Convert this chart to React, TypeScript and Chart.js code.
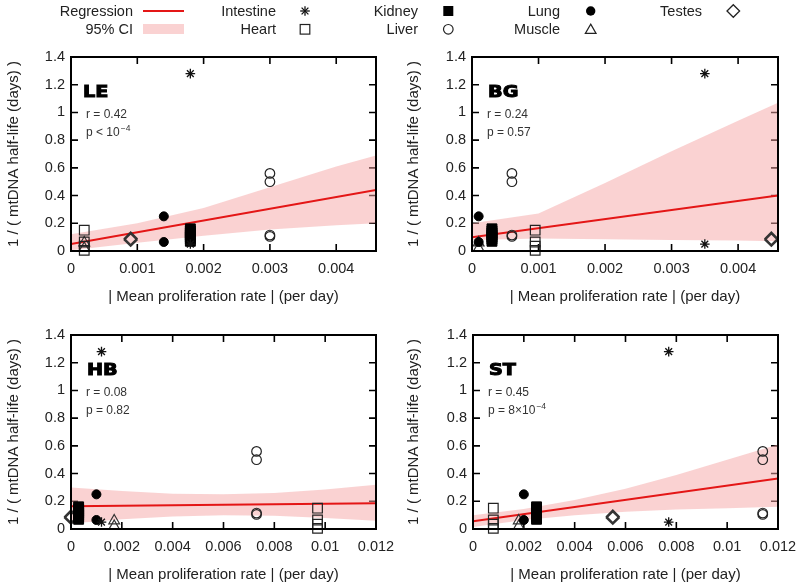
import React, { useEffect, useRef } from 'react';
import { Chart, registerables } from 'chart.js';

Chart.register(...registerables);
Chart.defaults.font.family = '"Liberation Sans", Arial, sans-serif';

// ---------- text ----------
const panelNames = ['LE', 'BG', 'HB', 'ST'];
const rLabels = ['r = 0.42', 'r = 0.24', 'r = 0.08', 'r = 0.45'];
const pLabels = ['p < 10', 'p = 0.57', 'p = 0.82', 'p = 8×10'];
const pSuperscripts = ['−4', '', '', '−4'];
const xTitle = '| Mean proliferation rate | (per day)';
const yTitle = '1 / ( mtDNA half-life (days) )';

// ---------- axes ----------
const xMax = [0.0046, 0.0046, 0.012, 0.012];
const xTicksNarrow = [0, 0.001, 0.002, 0.003, 0.004];
const xTickLabelsNarrow = ['0', '0.001', '0.002', '0.003', '0.004'];
const xTicksWide = [0, 0.002, 0.004, 0.006, 0.008, 0.01, 0.012];
const xTickLabelsWide = ['0', '0.002', '0.004', '0.006', '0.008', '0.01', '0.012'];
const yTicks = [0, 0.2, 0.4, 0.6, 0.8, 1, 1.2, 1.4];
const yTickLabels = ['0', '0.2', '0.4', '0.6', '0.8', '1', '1.2', '1.4'];

// ---------- tissue values: 1 / half-life (same in every panel) ----------
const tissueNames = ['Intestine', 'Heart', 'Kidney', 'Liver', 'Lung', 'Muscle', 'Testes'];
const intestineY = [1.28, 0.05];
const heartY = [0.15, 0.065, 0.035, 0.005];
const kidneyY = [0.07, 0.085, 0.1, 0.115, 0.13, 0.145, 0.16];
const liverY = [0.56, 0.5, 0.115, 0.105];
const lungY = [0.25, 0.065];
const muscleY = [0.06, 0.02];
const testesY = [0.09, 0.08];

// ---------- proliferation rate per tissue, per panel (LE, BG, HB, ST) ----------
const intestineX = [0.0018, 0.0035, 0.0012, 0.0077];
const heartX = [0.0002, 0.00095, 0.0097, 0.0008];
const kidneyX = [0.0018, 0.0003, 0.0003, 0.0025];
const liverX = [0.003, 0.0006, 0.0073, 0.0114];
const lungX = [0.0014, 0.0001, 0.001, 0.002];
const muscleX = [0.0002, 0.0001, 0.0017, 0.0018];
const testesX = [0.0009, 0.0045, 0.0, 0.0055];

// ---------- regression line ends ----------
const regStartY = [0.05, 0.1, 0.165, 0.055];
const regEndY = [0.44, 0.4, 0.185, 0.365];

// ---------- 95% CI band ----------
const bandXNarrow = [0, 0.001, 0.002, 0.003, 0.004, 0.0046];
const bandXWide = [0, 0.002, 0.004, 0.006, 0.008, 0.01, 0.012];
const ciUpperLE = [0.12, 0.2, 0.31, 0.46, 0.61, 0.69];
const ciLowerLE = [0.005, 0.06, 0.11, 0.155, 0.185, 0.2];
const ciUpperBG = [0.2, 0.27, 0.49, 0.72, 0.94, 1.07];
const ciLowerBG = [0.08, 0.09, 0.085, 0.08, 0.075, 0.07];
const ciUpperHB = [0.3, 0.275, 0.255, 0.25, 0.26, 0.285, 0.32];
const ciLowerHB = [0.04, 0.07, 0.09, 0.1, 0.095, 0.08, 0.06];
const ciUpperST = [0.1, 0.145, 0.21, 0.29, 0.39, 0.5, 0.61];
const ciLowerST = [0.015, 0.065, 0.1, 0.125, 0.14, 0.15, 0.16];

const tissueYs = [intestineY, heartY, kidneyY, liverY, lungY, muscleY, testesY];
const tissueXs = [intestineX, heartX, kidneyX, liverX, lungX, muscleX, testesX];
const ciUppers = [ciUpperLE, ciUpperBG, ciUpperHB, ciUpperST];
const ciLowers = [ciLowerLE, ciLowerBG, ciLowerHB, ciLowerST];

// ---------- styles ----------
const BAND = 'rgba(245, 165, 165, 0.5)';
const RED = 'rgb(228, 22, 22)';
const tissueStyles: any[] = [
  { pointStyle: 'star', radius: 4.8, bg: 'rgba(0,0,0,0)', border: '#111', bw: 1.3 },
  { pointStyle: 'rect', radius: 6.8, bg: 'rgba(0,0,0,0)', border: '#222', bw: 1.2 },
  { pointStyle: 'rect', radius: 7, bg: '#000', border: '#000', bw: 1 },
  { pointStyle: 'circle', radius: 4.8, bg: 'rgba(0,0,0,0)', border: '#222', bw: 1.2 },
  { pointStyle: 'circle', radius: 4.5, bg: '#000', border: '#000', bw: 1 },
  { pointStyle: 'triangle', radius: 6.2, bg: 'rgba(0,0,0,0)', border: '#333', bw: 1.2 },
  { pointStyle: 'rectRot', radius: 6.3, bg: 'rgba(0,0,0,0)', border: '#333', bw: 1.6 },
];

const panelLayouts = [
  { left: 0, top: 0, width: 400, height: 310, area: { l: 71, t: 57, r: 376, b: 251 }, titlePadB: 4, nameDx: 12 },
  { left: 400, top: 0, width: 400, height: 310, area: { l: 72, t: 57, r: 378, b: 251 }, titlePadB: 4, nameDx: 16 },
  { left: 0, top: 300, width: 400, height: 285, area: { l: 71, t: 35, r: 376, b: 229 }, titlePadB: 1, nameDx: 16 },
  { left: 400, top: 300, width: 400, height: 285, area: { l: 73, t: 35, r: 378, b: 229 }, titlePadB: 1, nameDx: 16 },
];

const framePlugin = {
  id: 'frame',
  beforeDatasetsDraw(chart: any) {
    const { ctx, chartArea, scales } = chart;
    const { left, top, right, bottom } = chartArea;
    ctx.save();
    ctx.strokeStyle = '#000';
    ctx.lineWidth = 1.6;
    ctx.beginPath();
    const L = 7;
    scales.x.ticks.forEach((t: any) => {
      const px = scales.x.getPixelForValue(t.value);
      ctx.moveTo(px, bottom); ctx.lineTo(px, bottom - L);
      ctx.moveTo(px, top); ctx.lineTo(px, top + L);
    });
    scales.y.ticks.forEach((t: any) => {
      const py = scales.y.getPixelForValue(t.value);
      ctx.moveTo(left, py); ctx.lineTo(left + L, py);
      ctx.moveTo(right, py); ctx.lineTo(right - L, py);
    });
    ctx.stroke();
    ctx.restore();
  },
  afterDatasetsDraw(chart: any) {
    const { ctx, chartArea } = chart;
    const { left, top, right, bottom } = chartArea;
    ctx.save();
    ctx.strokeStyle = '#000';
    ctx.lineWidth = 2;
    ctx.strokeRect(left, top, right - left, bottom - top);
    ctx.restore();
  },
  afterDraw(chart: any, _args: any, opts: any) {
    const { ctx, chartArea } = chart;
    const { left, top } = chartArea;
    const i = opts.index;
    ctx.save();
    ctx.textBaseline = 'middle';
    ctx.textAlign = 'left';
    ctx.fillStyle = '#000';
    ctx.strokeStyle = '#000';
    ctx.lineWidth = 1;
    ctx.font = 'bold 16px "DejaVu Sans", sans-serif';
    ctx.save();
    ctx.translate(left + opts.nameDx, top + 36);
    ctx.scale(1.2, 1);
    ctx.fillText(panelNames[i], 0, 0);
    ctx.strokeText(panelNames[i], 0, 0);
    ctx.restore();
    ctx.fillStyle = '#333';
    ctx.font = '12px "Liberation Sans", Arial, sans-serif';
    ctx.fillText(rLabels[i], left + 15, top + 57.5);
    ctx.fillText(pLabels[i], left + 15, top + 76);
    if (pSuperscripts[i]) {
      const w = ctx.measureText(pLabels[i]).width;
      ctx.font = '8.5px "Liberation Sans", Arial, sans-serif';
      ctx.fillText(pSuperscripts[i], left + 15 + w + 1, top + 71.5);
    }
    ctx.restore();
  },
};

function Panel({ index }: { index: number }) {
  const ref = useRef<HTMLCanvasElement>(null);
  const lay = panelLayouts[index];
  useEffect(() => {
    const canvas = ref.current;
    if (!canvas) return;
    const narrow = index < 2;
    const xTickVals = narrow ? xTicksNarrow : xTicksWide;
    const xTickLbls = narrow ? xTickLabelsNarrow : xTickLabelsWide;
    const bandX = narrow ? bandXNarrow : bandXWide;
    const upper = ciUppers[index];
    const lower = ciLowers[index];

    const datasets: any[] = [
      {
        type: 'line',
        label: 'ci-upper',
        data: bandX.map((x, k) => ({ x, y: upper[k] })),
        borderColor: 'rgba(0,0,0,0)',
        borderWidth: 0,
        pointRadius: 0,
        backgroundColor: BAND,
        fill: '+1',
        tension: 0,
        order: 3,
      },
      {
        type: 'line',
        label: 'ci-lower',
        data: bandX.map((x, k) => ({ x, y: lower[k] })),
        borderColor: 'rgba(0,0,0,0)',
        borderWidth: 0,
        pointRadius: 0,
        fill: false,
        tension: 0,
        order: 3,
      },
      {
        type: 'line',
        label: 'Regression',
        data: [
          { x: 0, y: regStartY[index] },
          { x: xMax[index], y: regEndY[index] },
        ],
        borderColor: RED,
        borderWidth: 2,
        pointRadius: 0,
        fill: false,
        tension: 0,
        order: 2,
      },
    ];
    tissueNames.forEach((name, t) => {
      const st = tissueStyles[t];
      datasets.push({
        type: 'scatter',
        label: name,
        data: tissueYs[t].map((y) => ({ x: tissueXs[t][index], y })),
        pointStyle: st.pointStyle,
        pointRadius: st.radius,
        pointBackgroundColor: st.bg,
        pointBorderColor: st.border,
        pointBorderWidth: st.bw,
        showLine: false,
        clip: false,
        order: 1,
      });
    });

    const chart = new Chart(canvas, {
      type: 'scatter',
      data: { datasets },
      options: {
        animation: false,
        responsive: false,
        events: [],
        layout: {
          autoPadding: false,
          padding: { left: 0, top: lay.area.t, right: lay.width - lay.area.r, bottom: 0 },
        },
        plugins: {
          legend: { display: false },
          tooltip: { enabled: false },
          frame: { index, nameDx: lay.nameDx },
        } as any,
        scales: {
          x: {
            type: 'linear',
            min: 0,
            max: xMax[index],
            grid: { display: false, drawTicks: false },
            border: { display: false },
            ticks: {
              padding: 9,
              color: '#222',
              font: { size: 14.5 },
              maxRotation: 0,
              autoSkip: false,
              callback: (_v: any, k: number) => xTickLbls[k],
            },
            afterBuildTicks: (s: any) => {
              s.ticks = xTickVals.map((v) => ({ value: v }));
            },
            afterFit: (s: any) => {
              s.height = lay.height - lay.area.b;
              s.paddingLeft = 0;
              s.paddingRight = 0;
            },
            title: {
              display: true,
              text: xTitle,
              color: '#222',
              font: { size: 15 },
              padding: { top: 0, bottom: lay.titlePadB },
            },
          },
          y: {
            type: 'linear',
            min: 0,
            max: 1.4,
            grid: { display: false, drawTicks: false },
            border: { display: false },
            ticks: {
              padding: 6,
              color: '#222',
              font: { size: 14.5 },
              autoSkip: false,
              callback: (_v: any, k: number) => yTickLabels[k],
            },
            afterBuildTicks: (s: any) => {
              s.ticks = yTicks.map((v) => ({ value: v }));
            },
            afterFit: (s: any) => {
              s.width = lay.area.l;
              s.paddingTop = 0;
              s.paddingBottom = 0;
            },
            title: {
              display: true,
              text: yTitle,
              color: '#222',
              font: { size: 15 },
              padding: { top: 5, bottom: 0 },
            },
          },
        },
      } as any,
      plugins: [framePlugin],
    });
    return () => chart.destroy();
  }, [index]);
  return (
    <canvas
      ref={ref}
      width={lay.width}
      height={lay.height}
      style={{ position: 'absolute', left: lay.left, top: lay.top, width: lay.width, height: lay.height, display: 'block' }}
    />
  );
}

// ---------- legend ----------
const legendTextRight = [133, 276, 418, 560, 702];
const legendMarkerX = [163.5, 305, 448.3, 590.7, 733.3];
const legendRowY = [11, 29.3];
const legendRow1 = ['Regression', 'Intestine', 'Kidney', 'Lung', 'Testes'];
const legendRow2 = ['95% CI', 'Heart', 'Liver', 'Muscle'];

function Marker({ kind, x, y }: { kind: string; x: number; y: number }) {
  const s = '#222';
  switch (kind) {
    case 'Regression':
      return <line x1={143} x2={184} y1={y} y2={y} stroke={RED} strokeWidth={2} />;
    case '95% CI':
      return <rect x={143} y={24} width={41} height={10} fill="rgb(250,210,210)" />;
    case 'Intestine': {
      const r = 4.8, d = r * Math.SQRT1_2;
      return (
        <g stroke="#111" strokeWidth={1.3}>
          <line x1={x - r} x2={x + r} y1={y} y2={y} />
          <line x1={x} x2={x} y1={y - r} y2={y + r} />
          <line x1={x - d} x2={x + d} y1={y - d} y2={y + d} />
          <line x1={x - d} x2={x + d} y1={y + d} y2={y - d} />
        </g>
      );
    }
    case 'Heart':
      return <rect x={x - 4.8} y={y - 4.8} width={9.6} height={9.6} fill="none" stroke={s} strokeWidth={1.2} />;
    case 'Kidney':
      return <rect x={x - 5} y={y - 5} width={10} height={10} fill="#000" />;
    case 'Liver':
      return <circle cx={x} cy={y} r={4.8} fill="none" stroke={s} strokeWidth={1.2} />;
    case 'Lung':
      return <circle cx={x} cy={y} r={4.7} fill="#000" />;
    case 'Muscle': {
      const r = 6.2;
      const pts = [0, 1, 2].map((k) => {
        const a = (k * 2 * Math.PI) / 3;
        return `${x + Math.sin(a) * r},${y + 1 - Math.cos(a) * r}`;
      });
      return <polygon points={pts.join(' ')} fill="none" stroke={s} strokeWidth={1.2} />;
    }
    case 'Testes':
      return (
        <polygon
          points={`${x},${y - 6.3} ${x + 6.3},${y} ${x},${y + 6.3} ${x - 6.3},${y}`}
          fill="none"
          stroke={s}
          strokeWidth={1.3}
        />
      );
    default:
      return null;
  }
}

function Legend() {
  const rows = [legendRow1, legendRow2];
  return (
    <>
      <svg width={800} height={45} style={{ position: 'absolute', left: 0, top: 0 }}>
        {rows.map((row, r) =>
          row.map((name, c) => <Marker key={name} kind={name} x={legendMarkerX[c]} y={legendRowY[r]} />)
        )}
      </svg>
      {rows.map((row, r) =>
        row.map((name, c) => (
          <div
            key={'t' + name}
            style={{
              position: 'absolute',
              left: legendTextRight[c] - 200,
              width: 200,
              top: legendRowY[r] - 9,
              height: 18,
              lineHeight: '18px',
              textAlign: 'right',
              fontFamily: '"Liberation Sans", Arial, sans-serif',
              fontSize: '14.5px',
              color: '#222',
              whiteSpace: 'nowrap',
            }}
          >
            {name}
          </div>
        ))
      )}
    </>
  );
}

export default function App() {
  useEffect(() => {
    document.body.style.margin = '0';
  }, []);
  return (
    <div style={{ position: 'absolute', left: 0, top: 0, width: 800, height: 585, background: '#fff', overflow: 'hidden' }}>
      {[0, 1, 2, 3].map((i) => (
        <Panel key={i} index={i} />
      ))}
      <Legend />
    </div>
  );
}
